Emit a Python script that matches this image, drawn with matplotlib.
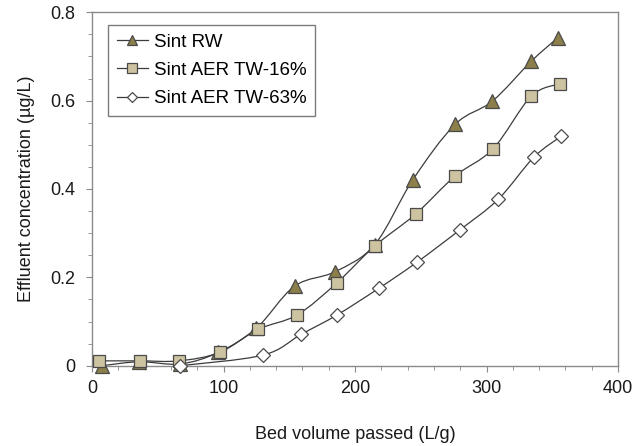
import matplotlib
matplotlib.use("Agg")
import matplotlib.pyplot as plt
from matplotlib.path import Path
from matplotlib.patches import PathPatch
from matplotlib.lines import Line2D
from matplotlib.ticker import MultipleLocator, FuncFormatter

plt.rcParams['font.family'] = ['Liberation Sans', 'DejaVu Sans']

# data
rw_x = [7.6, 36, 67, 96, 125, 154, 185, 215, 244, 276, 304.5, 334, 354]
rw_y = [0.0, 0.009, 0.004, 0.03, 0.085, 0.18, 0.213, 0.274, 0.421, 0.546, 0.599, 0.689, 0.742]

tw16_x = [5.6, 36.6, 66, 97, 126, 156, 186, 215, 246, 276, 305, 334, 356]
tw16_y = [0.011, 0.011, 0.011, 0.03, 0.082, 0.115, 0.187, 0.271, 0.343, 0.429, 0.491, 0.61, 0.638]

tw63_x = [67, 130, 159, 186.4, 218, 247, 280, 309, 336, 356.6]
tw63_y = [0.0, 0.024, 0.071, 0.115, 0.175, 0.234, 0.308, 0.377, 0.472, 0.519]

labels = ['Sint RW', 'Sint AER TW-16%', 'Sint AER TW-63%']
line_col = '#3c3c3c'
edge_col = '#4a4a4a'


def smooth_path(xs, ys):
    # Excel style smoothed line: cubic bezier through the points
    pts = list(zip(xs, ys))
    n = len(pts)
    verts = [pts[0]]
    codes = [Path.MOVETO]
    for i in range(n - 1):
        p0 = pts[i - 1] if i > 0 else pts[i]
        p1 = pts[i]
        p2 = pts[i + 1]
        p3 = pts[i + 2] if i + 2 < n else pts[i + 1]
        c1 = (p1[0] + (p2[0] - p0[0]) / 6, p1[1] + (p2[1] - p0[1]) / 6)
        c2 = (p2[0] - (p3[0] - p1[0]) / 6, p2[1] - (p3[1] - p1[1]) / 6)
        verts += [c1, c2, p2]
        codes += [Path.CURVE4] * 3
    return Path(verts, codes)


fig = plt.figure(figsize=(6.36, 4.46), dpi=100)
ax = fig.add_axes([0.1447, 0.18, 0.827, 0.7925])

series = [
    (rw_x, rw_y, '^', '#8c7f4a', 10),
    (tw16_x, tw16_y, 's', '#cdc3a0', 9),
    (tw63_x, tw63_y, 'D', 'white', 7),
]

handles = []
for (xs, ys, mk, fc, ms), lab in zip(series, labels):
    ax.add_patch(PathPatch(smooth_path(xs, ys), fill=False, edgecolor=line_col, lw=0.9, zorder=2))
    ax.plot(xs, ys, linestyle='none', marker=mk, markersize=ms, markerfacecolor=fc,
            markeredgecolor=edge_col, markeredgewidth=0.9, zorder=3, clip_on=False)
    handles.append(Line2D([0], [0], color=line_col, lw=0.9, marker=mk, markersize=ms * 0.75,
                          markerfacecolor=fc, markeredgecolor=edge_col, markeredgewidth=0.9))

ax.set_xlim(0, 400)
ax.set_ylim(0, 0.8)
ax.xaxis.set_major_locator(MultipleLocator(100))
ax.xaxis.set_minor_locator(MultipleLocator(20))
ax.yaxis.set_major_locator(MultipleLocator(0.2))
ax.yaxis.set_minor_locator(MultipleLocator(0.05))
ax.yaxis.set_major_formatter(FuncFormatter(lambda v, p: '0' if abs(v) < 1e-9 else f'{v:.1f}'))

for sp in ax.spines.values():
    sp.set_color('#8a8a8a')
    sp.set_linewidth(1.0)

ax.tick_params(which='both', direction='out', color='#8a8a8a', labelsize=13, labelcolor='#1a1a1a')
ax.tick_params(which='major', length=4)
ax.tick_params(which='minor', length=3)
ax.tick_params(axis='x', pad=6.5)
ax.tick_params(axis='y', pad=8)

ax.set_xlabel('Bed volume passed (L/g)', fontsize=13, labelpad=21, color='#1a1a1a')
ax.set_ylabel('Effluent concentration (\u00b5g/L)', fontsize=13, labelpad=11, color='#1a1a1a')

leg = ax.legend(handles, labels, loc='upper left', bbox_to_anchor=(0.0305, 0.964), fontsize=13.5,
                frameon=True, fancybox=False, edgecolor='#5a5a5a', handlelength=1.7,
                handletextpad=0.3, borderpad=0.45, labelspacing=0.6, borderaxespad=0)
leg.get_frame().set_linewidth(1.0)

fig.savefig('out.png', dpi=100)
